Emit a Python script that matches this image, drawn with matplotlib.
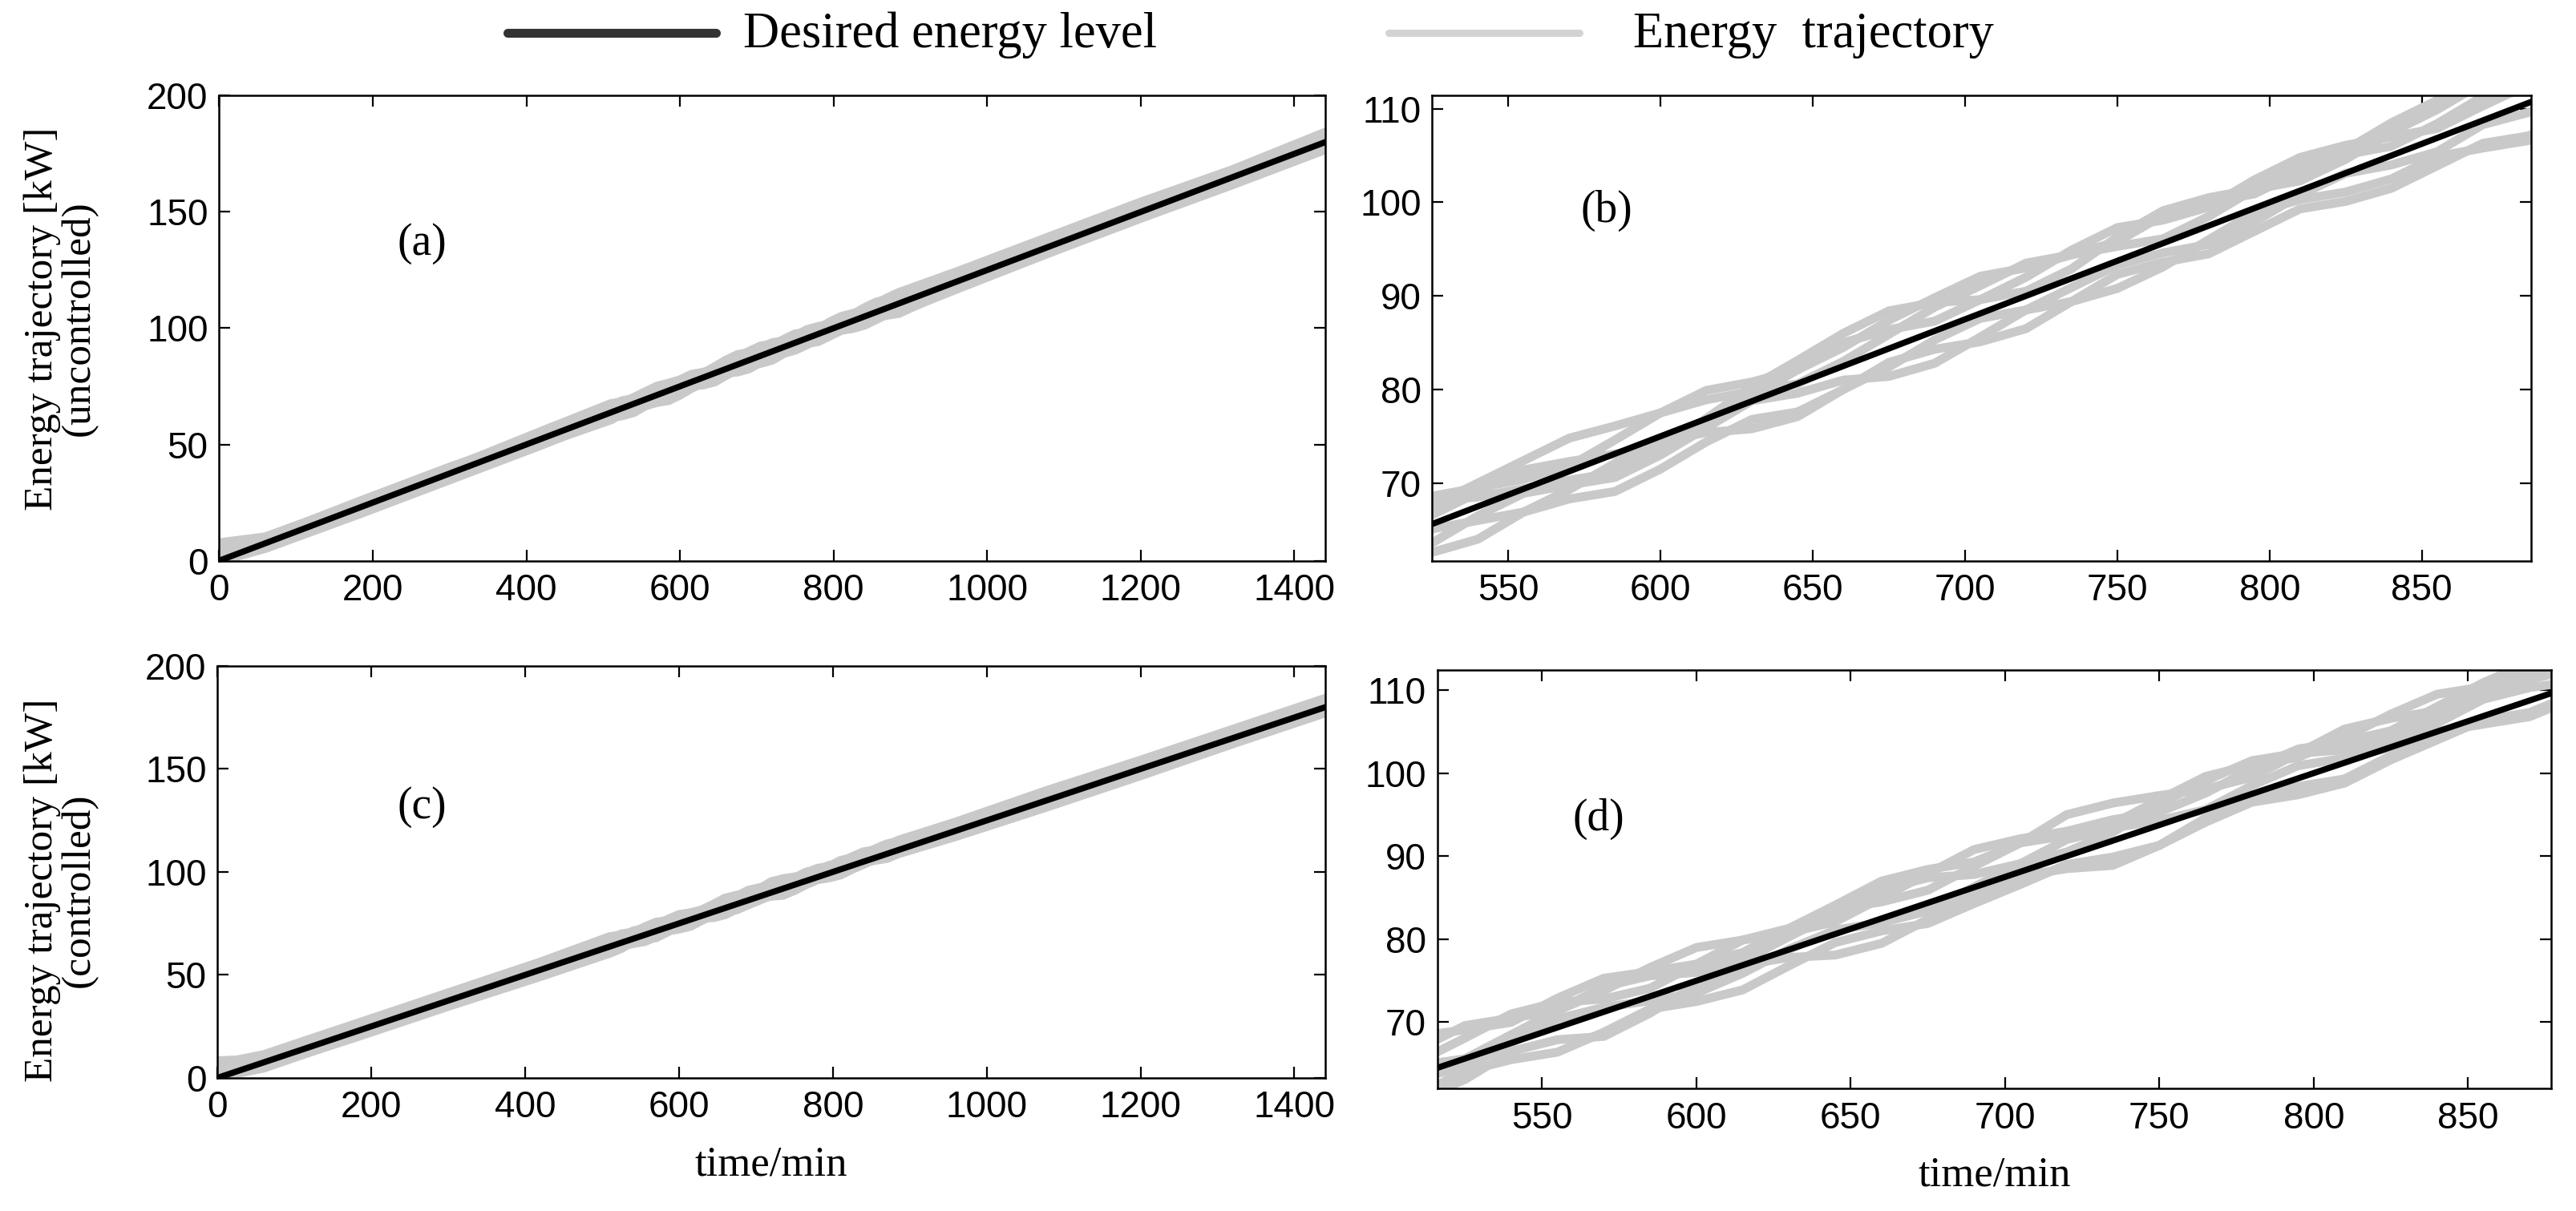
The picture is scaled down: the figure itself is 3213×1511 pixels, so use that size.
"""
Energy trajectories vs desired energy level, uncontrolled (a,b) and controlled (c,d).
"""

import matplotlib
matplotlib.use("Agg")
import matplotlib.pyplot as plt
from matplotlib.lines import Line2D

# ---- data ----
desired_t = [0, 1440]
desired_e = [0.0, 180.0]

t_knots = [0, 60, 180, 300, 420,
           510, 525, 540, 555, 570, 585, 600, 615, 630, 645, 660, 675, 690,
           705, 720, 735, 750, 765, 780, 795, 810, 825, 840, 855, 870, 885,
           960, 1080, 1200, 1320, 1440]

# uncontrolled trajectories [kW]
unctrl = [
    [4.0, 9.5, 25.0, 40.0, 54.0,
     64.8, 67.6, 70.0, 72.4, 74.8, 76.1, 77.5, 79.9, 80.8, 82.1, 84.5, 87.4, 89.8,
     92.1, 93.0, 94.4, 95.8, 98.6, 100.0, 100.9, 103.3, 105.6, 108.5, 110.9, 112.3, 114.6,
     123.0, 137.5, 153.0, 167.5, 183.5],
    [0.0, 5.5, 20.0, 35.0, 50.0,
     61.8, 62.6, 64.0, 66.9, 68.3, 69.1, 71.5, 74.4, 76.8, 77.6, 80.0, 82.9, 84.3,
     85.1, 86.5, 89.4, 92.3, 93.6, 94.5, 96.9, 99.3, 100.1, 101.5, 103.9, 106.3, 107.1,
     117.0, 132.5, 147.5, 162.0, 177.0],
    [7.5, 10.0, 24.5, 39.0, 55.0,
     66.3, 68.6, 69.5, 70.4, 71.8, 74.6, 77.5, 78.9, 79.8, 80.6, 83.0, 85.9, 88.8,
     91.1, 93.5, 94.4, 95.3, 96.1, 98.5, 101.4, 104.3, 105.1, 106.0, 108.4, 111.3, 113.6,
     122.0, 138.0, 151.5, 166.5, 182.0],
    [1.0, 6.0, 21.0, 36.0, 51.0,
     62.8, 65.1, 66.0, 66.9, 69.3, 72.1, 74.5, 75.4, 75.8, 77.1, 80.0, 82.4, 85.3,
     87.6, 88.5, 89.4, 90.8, 93.1, 96.0, 98.9, 100.3, 101.1, 102.5, 104.9, 105.8, 106.6,
     118.0, 133.0, 148.0, 163.5, 177.5],
    [3.0, 8.5, 23.5, 38.5, 53.5,
     63.8, 66.6, 69.0, 71.4, 72.3, 73.1, 74.0, 76.4, 79.3, 82.1, 85.0, 86.4, 87.3,
     89.6, 92.0, 94.9, 97.3, 98.1, 99.5, 102.4, 104.8, 106.1, 107.0, 107.9, 110.3, 112.6,
     121.5, 136.5, 152.0, 167.0, 181.5],
    [6.0, 7.0, 21.5, 36.5, 50.5,
     60.8, 63.6, 66.5, 68.9, 69.8, 70.6, 73.0, 75.9, 78.8, 79.6, 81.0, 81.4, 82.8,
     85.6, 88.5, 90.9, 93.3, 94.6, 95.5, 97.9, 100.8, 103.1, 104.0, 105.4, 108.3, 109.6,
     119.0, 134.0, 149.0, 164.0, 179.0],
    [2.0, 9.0, 24.0, 39.5, 55.5,
     67.3, 68.1, 68.5, 69.4, 70.3, 71.1, 73.5, 76.9, 80.3, 83.1, 86.0, 88.4, 89.3,
     89.6, 90.5, 92.9, 96.3, 99.1, 100.5, 101.4, 102.3, 104.6, 107.5, 109.9, 112.8, 115.1,
     124.0, 139.0, 154.0, 168.0, 184.0],
]

# controlled trajectories [kW]
ctrl = [
    [5.0, 10.0, 25.5, 40.5, 55.5,
     66.8, 69.6, 70.5, 71.4, 73.8, 76.6, 79.0, 79.9, 81.3, 84.1, 87.0, 88.4, 89.3,
     91.6, 92.5, 93.9, 96.8, 99.6, 101.0, 101.9, 104.3, 107.1, 109.5, 110.4, 111.8, 114.1,
     123.5, 138.5, 153.5, 168.0, 183.0],
    [0.5, 5.0, 20.5, 35.5, 50.5,
     61.3, 64.1, 65.5, 66.4, 68.8, 71.6, 72.5, 73.9, 76.8, 79.6, 81.0, 81.9, 84.3,
     86.6, 89.0, 89.9, 91.3, 94.1, 96.5, 97.4, 98.8, 101.6, 104.0, 106.4, 107.3, 109.6,
     118.5, 133.0, 148.5, 163.5, 178.0],
    [8.0, 9.0, 24.0, 39.5, 54.0,
     65.3, 68.1, 71.0, 72.4, 72.8, 74.1, 77.0, 79.9, 80.8, 82.1, 85.0, 87.9, 90.8,
     92.1, 93.0, 94.4, 95.3, 97.6, 100.5, 102.9, 103.8, 105.1, 108.0, 110.9, 113.3, 114.6,
     122.5, 137.0, 152.5, 167.5, 182.5],
    [2.0, 7.0, 22.0, 38.0, 52.0,
     63.3, 64.6, 67.5, 70.4, 71.8, 72.6, 73.5, 75.9, 78.8, 81.1, 82.0, 83.4, 86.3,
     89.1, 92.0, 93.4, 94.3, 95.6, 98.5, 100.9, 101.8, 103.1, 106.0, 108.9, 110.3, 111.1,
     120.5, 135.5, 150.5, 165.5, 180.5],
    [6.5, 11.0, 26.0, 41.0, 56.0,
     68.3, 69.1, 70.0, 72.9, 75.3, 76.1, 77.0, 78.4, 81.3, 83.6, 84.5, 85.9, 88.8,
     91.6, 95.0, 96.4, 97.3, 98.1, 99.5, 102.4, 105.3, 106.6, 107.5, 109.4, 112.3, 115.1,
     124.0, 139.5, 154.0, 169.0, 184.0],
    [1.5, 5.5, 20.0, 35.0, 49.5,
     60.8, 63.1, 66.5, 67.9, 68.3, 71.1, 74.5, 76.9, 77.8, 78.1, 79.5, 82.4, 85.3,
     87.6, 88.5, 88.9, 91.3, 94.6, 97.0, 98.4, 99.3, 102.1, 105.0, 105.9, 106.8, 109.1,
     117.5, 132.0, 147.0, 162.5, 177.5],
    [4.0, 8.5, 23.0, 38.0, 53.5,
     64.8, 65.6, 68.5, 71.4, 74.3, 75.6, 76.0, 77.4, 80.3, 83.1, 86.0, 87.4, 87.8,
     89.1, 90.5, 92.9, 96.3, 99.1, 101.5, 102.4, 102.8, 104.1, 107.0, 109.9, 111.3, 112.6,
     121.0, 136.0, 151.5, 166.5, 181.5],
]

full_xticks = [0, 200, 400, 600, 800, 1000, 1200, 1400]
full_yticks = [0, 50, 100, 150, 200]
zoom_xticks = [550, 600, 650, 700, 750, 800, 850]
zoom_yticks = [70, 80, 90, 100, 110]

GRAY = "#c9c9c9"
SERIF = "Liberation Serif"
SANS = "Liberation Sans"

fig = plt.figure(figsize=(32.13, 15.11), dpi=100)

# [left, bottom, width, height] in figure fractions
ax_a = fig.add_axes([0.0851, 0.537, 0.4293, 0.384])
ax_b = fig.add_axes([0.5560, 0.537, 0.4267, 0.384])
ax_c = fig.add_axes([0.0845, 0.110, 0.4299, 0.340])
ax_d = fig.add_axes([0.5579, 0.101, 0.4325, 0.3456])

# axes, data, xlim, ylim, xticks, yticks, gray line width
panels = [
    (ax_a, unctrl, (0, 1440), (0, 200), full_xticks, full_yticks, 9.0),
    (ax_b, unctrl, (525, 886), (61.7, 111.4), zoom_xticks, zoom_yticks, 8.0),
    (ax_c, ctrl, (0, 1440), (0, 200), full_xticks, full_yticks, 9.0),
    (ax_d, ctrl, (516, 877), (62.0, 112.4), zoom_xticks, zoom_yticks, 8.0),
]

for ax, trajs, xl, yl, xt, yt, glw in panels:
    for tr in trajs:
        ax.plot(t_knots, tr, color=GRAY, lw=glw, solid_joinstyle="miter")
    ax.plot(desired_t, desired_e, color="black", lw=5.5)
    ax.set_xlim(xl)
    ax.set_ylim(yl)
    ax.set_xticks(xt)
    ax.set_yticks(yt)
    ax.tick_params(direction="in", length=10, width=1.6, top=True, right=True,
                   labelsize=33)
    ax.tick_params(axis="x", pad=11)
    ax.tick_params(axis="y", pad=10)
    for lab in ax.get_xticklabels() + ax.get_yticklabels():
        lab.set_fontfamily(SANS)
    for sp in ax.spines.values():
        sp.set_linewidth(1.8)

# panel tags
for tag, x, y in [("(a)", 0.1638, 0.7986), ("(b)", 0.6238, 0.8259),
                  ("(c)", 0.1638, 0.3333), ("(d)", 0.6206, 0.3238)]:
    fig.text(x, y, tag, ha="center", va="center", fontsize=40, family=SERIF)

ax_c.set_xlabel("time/min", fontsize=38, family=SERIF, labelpad=18)
ax_d.set_xlabel("time/min", fontsize=38, family=SERIF, labelpad=18)

fig.text(0.0235, 0.737, "Energy trajectory [kW]\n(uncontrolled)", rotation=90,
         ha="center", va="center", fontsize=37, family=SERIF, linespacing=1.0)
fig.text(0.0235, 0.265, "Energy trajectory [kW]\n(controlled)", rotation=90,
         ha="center", va="center", fontsize=37, family=SERIF, linespacing=1.0)

# legend drawn across the top
fig.add_artist(Line2D([0.197, 0.278], [0.973, 0.973], color="#333333", lw=8,
                      solid_capstyle="round", transform=fig.transFigure))
fig.text(0.2885, 0.971, "Desired energy level", ha="left", va="center",
         fontsize=45, family=SERIF)
fig.add_artist(Line2D([0.539, 0.613], [0.973, 0.973], color="#d3d3d3", lw=6.5,
                      solid_capstyle="round", transform=fig.transFigure))
fig.text(0.634, 0.971, "Energy  trajectory", ha="left", va="center",
         fontsize=45, family=SERIF)

fig.savefig("out.png", dpi=100)
